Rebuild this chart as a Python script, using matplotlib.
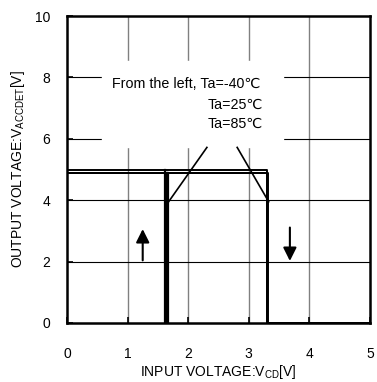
import matplotlib.pyplot as plt

plt.rcParams['font.family'] = ['Liberation Sans', 'DejaVu Sans']
plt.rcParams['mathtext.fontset'] = 'custom'
plt.rcParams['mathtext.rm'] = 'Liberation Sans'

# hysteresis per temperature: rise threshold, fall threshold, high level
temps = ['-40', '25', '85']
x_rise = [1.62, 1.645, 1.67]
x_fall = [3.30, 3.31, 3.32]
v_high = [5.0, 4.88, 4.88]

x_ticks = [0, 1, 2, 3, 4, 5]
y_ticks = [0, 2, 4, 6, 8, 10]

fig = plt.figure(figsize=(3.77, 3.82), dpi=100)
ax = fig.add_axes([0.1777, 0.1545, 0.8033, 0.8035])

ax.set_xlim(0, 5)
ax.set_ylim(0, 10)
ax.set_xticks(x_ticks)
ax.set_yticks(y_ticks)
ax.tick_params(direction='in', length=4, width=1.2, labelsize=10)
ax.tick_params(axis='x', pad=17)
ax.tick_params(axis='y', pad=12)

for x in x_ticks[1:-1]:
    ax.axvline(x, color='#808080', lw=1.0, zorder=1)
for y in y_ticks[1:-1]:
    ax.axhline(y, color='black', lw=0.8, zorder=1)

for xr, xf, v in zip(x_rise, x_fall, v_high):
    ax.plot([0, xf, xf, 5], [v, v, 0, 0], color='black', lw=1.4, zorder=3)
    ax.plot([xr, xr], [0, v], color='black', lw=1.6, zorder=3)

# label box and leader lines
ax.fill_between([0.58, 3.56], 5.72, 8.55, color='white', zorder=2)
ax.plot([2.31, 1.66], [5.72, 3.9], color='black', lw=1.2, zorder=4)
ax.plot([2.81, 3.33], [5.72, 3.95], color='black', lw=1.2, zorder=4)
ax.text(0.74, 7.8, 'From the left, Ta=' + temps[0] + '℃', fontsize=10.3,
        va='center', ha='left', zorder=5)
ax.text(2.32, 7.12, 'Ta=' + temps[1] + '℃', fontsize=10.3, va='center', ha='left', zorder=5)
ax.text(2.32, 6.5, 'Ta=' + temps[2] + '℃', fontsize=10.3, va='center', ha='left', zorder=5)

ax.annotate('', xy=(1.25, 3.15), xytext=(1.25, 1.95),
            arrowprops=dict(arrowstyle='-|>,head_length=0.5,head_width=0.25',
                            color='black', lw=1.5, mutation_scale=16))
ax.annotate('', xy=(3.68, 1.93), xytext=(3.68, 3.2),
            arrowprops=dict(arrowstyle='-|>,head_length=0.5,head_width=0.25',
                            color='black', lw=1.5, mutation_scale=16))

for s in ax.spines.values():
    s.set_linewidth(1.8)

ax.set_xlabel(r'INPUT VOLTAGE:V$_{\mathrm{CD}}$[V]', fontsize=10, labelpad=2)
ax.set_ylabel(r'OUTPUT VOLTAGE:V$_{\mathrm{ACCDET}}$[V]', fontsize=10, labelpad=6)

fig.savefig('out.png', dpi=100)
